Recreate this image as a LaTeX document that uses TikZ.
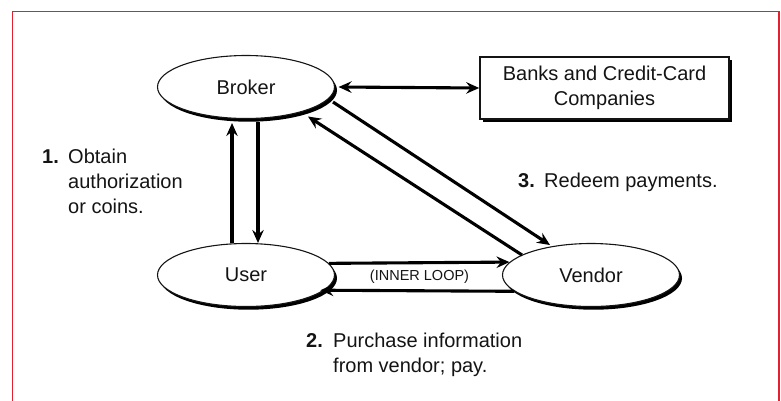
\documentclass[tikz,border=0pt]{standalone}
\usepackage{fontspec}
\setmainfont{Liberation Sans}
\usetikzlibrary{shapes.geometric,shadows,arrows.meta,calc}
\definecolor{framered}{RGB}{228,32,48}
\definecolor{ink}{RGB}{20,20,20}
\begin{document}
\begin{tikzpicture}[x=1pt,y=1pt,
  font=\fontsize{20}{25}\selectfont, text=ink,
  ell/.style={ellipse, draw=ink, line width=1.1pt, fill=white, minimum width=177pt, minimum height=63pt, inner sep=0pt,
    drop shadow={shadow xshift=2.5pt, shadow yshift=-3.2pt, fill=black, opacity=1}},
  bankbox/.style={rectangle, draw=ink, line width=1.6pt, fill=white, minimum width=249pt, minimum height=62pt, align=center, inner sep=0pt,
    drop shadow={shadow xshift=3.2pt, shadow yshift=-3.2pt, fill=black, opacity=1}},
  tipshape/.tip={Stealth[length=13pt, width=11.5pt, inset=4.5pt]},
  arr/.style={draw=black, line width=3.1pt, -tipshape},
  darr/.style={draw=black, line width=3.1pt, tipshape-tipshape},
  txt/.style={anchor=base west, inner sep=0pt}
]
\useasboundingbox (0,0) rectangle (781,-400);
\draw[framered, line width=1.2pt] (12.5,-11.7) rectangle (779,-412);

% nodes
\node[ell] (broker) at (246,-87) {Broker};
\node[ell] (user) at (246,-275) {User};
\node[ell] (vendor) at (591,-275) {Vendor};
\node[bankbox] (banks) at (604.5,-88) {Banks and Credit-Card\\Companies};

% connectors
\draw[darr] ([xshift=3.5pt]broker.east) -- (banks.west);
\draw[arr] ([xshift=-14pt]user.north) -- ([xshift=-14pt,yshift=-4pt]broker.south);
\draw[arr] ([xshift=12pt,yshift=-3pt]broker.south) -- ([xshift=12pt]user.north);
\draw[arr] ($(broker.center)+(87,-15)$) -- ($(vendor.center)+(-41,30)$);
\draw[arr] ($(vendor.center)+(-69,20)$) -- ($(broker.center)+(62,-29.5)$);
\draw[arr] (user.8.35) -- (vendor.171.65);
\draw[arr, shorten >=-4pt] (vendor.-168.63) -- (user.-11.37);

\node[font=\fontsize{14.5}{16}\selectfont] (loop) at (419.5,-277) {(INNER LOOP)};

% step labels
\node[txt] (n1) at (42,-163) {\textbf{1.}};
\node[txt] (t1a) at (68,-163) {Obtain};
\node[txt] (t1b) at (68,-188) {authorization};
\node[txt] (t1c) at (68,-213) {or coins.};

\node[txt] (n3) at (518,-187) {\textbf{3.}};
\node[txt] (t3a) at (544,-187) {Redeem payments.};

\node[txt] (n2) at (306,-347) {\textbf{2.}};
\node[txt] (t2a) at (333,-347) {Purchase information};
\node[txt] (t2b) at (333,-372) {from vendor; pay.};
\end{tikzpicture}
\end{document}
